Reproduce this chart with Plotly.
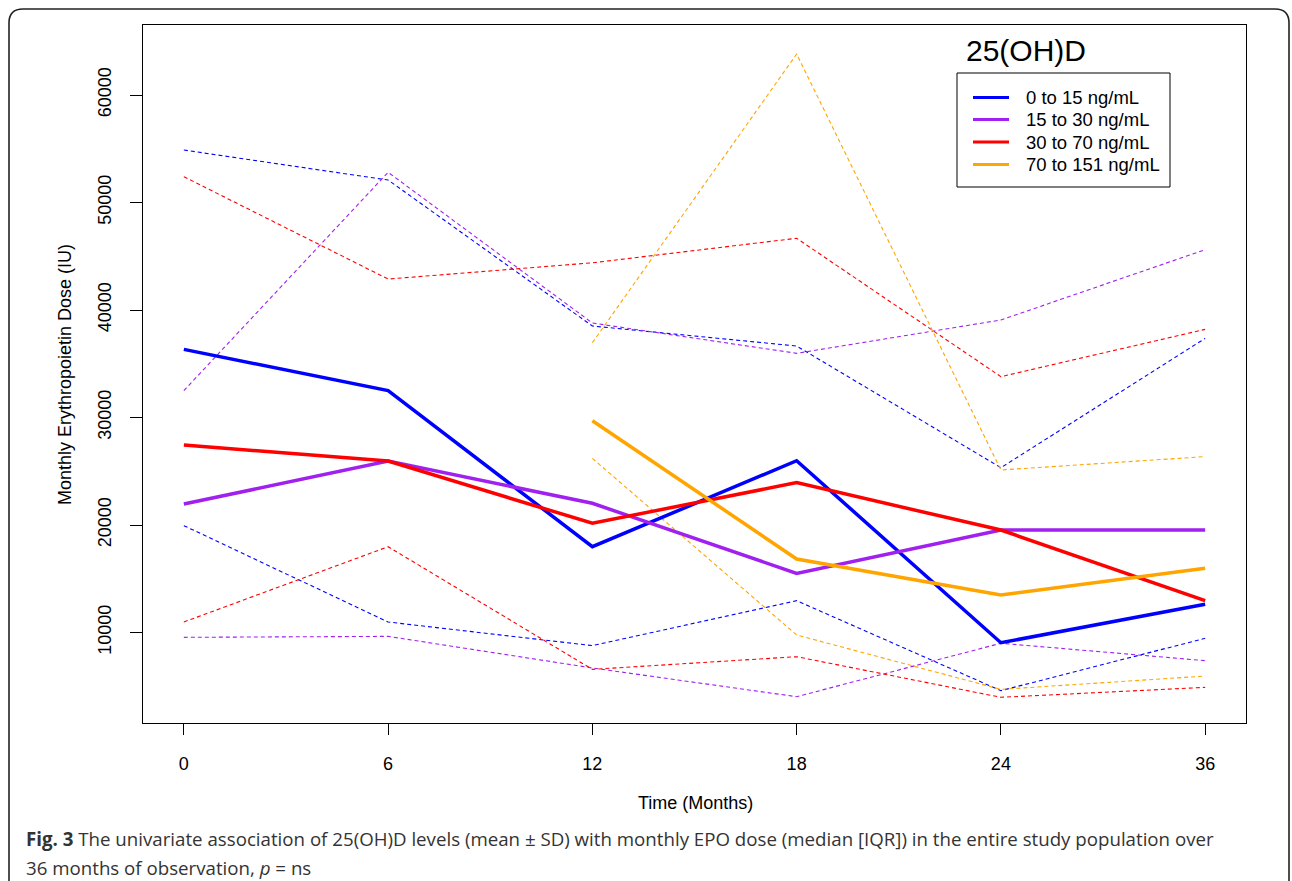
import plotly.graph_objects as go

# ---------------- data ----------------
months = ["0", "6", "12", "18", "24", "36"]
groups = ["0 to 15 ng/mL", "15 to 30 ng/mL", "30 to 70 ng/mL", "70 to 151 ng/mL"]

# medians (solid lines)
med_0_15 = [36340, 32500, 17980, 25980, 9050, 12620]
med_15_30 = [21950, 25950, 22020, 15500, 19530, 19530]
med_30_70 = [27440, 25950, 20160, 23940, 19530, 12960]
med_70_151 = [None, None, 29700, 16840, 13490, 15970]

# upper quartile (dashed)
q3_0_15 = [54880, 52090, 38510, 36650, 25330, 37360]
q3_15_30 = [32500, 52810, 38790, 35970, 39070, 45610]
q3_30_70 = [52400, 42880, 44390, 46670, 33800, 38200]
q3_70_151 = [None, None, 36960, 63810, 25120, 26360]

# lower quartile (dashed)
q1_0_15 = [19940, 10980, 8780, 12960, 4590, 9460]
q1_15_30 = [9550, 9640, 6700, 4030, 9000, 7380]
q1_30_70 = [10980, 17980, 6570, 7750, 3970, 4900]
q1_70_151 = [None, None, 26200, 9770, 4710, 5950]

y_ticks = [10000, 20000, 30000, 40000, 50000, 60000]

colors = ["#0000FF", "#A020F0", "#FF0000", "#FFA500"]
medians = [med_0_15, med_15_30, med_30_70, med_70_151]
uppers = [q3_0_15, q3_15_30, q3_30_70, q3_70_151]
lowers = [q1_0_15, q1_15_30, q1_30_70, q1_70_151]

# ---------------- layout geometry (pixels) ----------------
W, H = 1292, 881
L, R, T, B = 143, 1246, 25, 723
Y0_PX, PX_PER_10K = 740, 107.5   # pixel row of value 0, pixels per 10000


def px(x):
    return (x - L) / (R - L)


def py(y):
    return (B - y) / (B - T)


fig = go.Figure()

for g, c, lo, hi in zip(groups, colors, lowers, uppers):
    for vals in (hi, lo):
        xs = [m for m, v in zip(months, vals) if v is not None]
        ys = [v for v in vals if v is not None]
        fig.add_trace(go.Scatter(
            x=xs, y=ys, mode="lines", showlegend=False, hoverinfo="skip",
            line=dict(color=c, width=1.1, dash="4px,3px"),
        ))

for g, c, vals in zip(groups, colors, medians):
    xs = [m for m, v in zip(months, vals) if v is not None]
    ys = [v for v in vals if v is not None]
    fig.add_trace(go.Scatter(
        x=xs, y=ys, mode="lines", name=g, showlegend=False,
        line=dict(color=c, width=3.5),
    ))

axis_font = dict(family="Arial, Liberation Sans, sans-serif", size=18, color="#000")
cap_font = dict(family="Open Sans, Noto Sans, sans-serif", size=18.7, color="#333")

annotations = [
    dict(text="Time (Months)", xref="paper", yref="paper",
         x=px(695), y=py(803), xanchor="center", yanchor="middle",
         showarrow=False, font=axis_font),
    dict(text="Monthly Erythropoietin Dose (IU)", xref="paper", yref="paper",
         x=px(65), y=py(374), xanchor="center", yanchor="middle",
         textangle=-90, showarrow=False, font=axis_font),
    dict(text="25(OH)D", xref="paper", yref="paper",
         x=px(1026), y=py(50), xanchor="center", yanchor="middle",
         showarrow=False,
         font=dict(family="Arial, Liberation Sans, sans-serif", size=30, color="#000")),
    dict(text="<b>Fig. 3</b> The univariate association of 25(OH)D levels (mean ± SD) with monthly EPO dose (median [IQR]) in the entire study population over",
         xref="paper", yref="paper", x=px(24), y=py(838),
         xanchor="left", yanchor="middle", showarrow=False, align="left", font=cap_font),
    dict(text="36 months of observation, <i>p</i> = ns",
         xref="paper", yref="paper", x=px(24), y=py(867),
         xanchor="left", yanchor="middle", showarrow=False, align="left", font=cap_font),
]

shapes = []
# legend box (drawn manually to match the R legend layout)
LEG_X0, LEG_X1, LEG_Y0, LEG_Y1 = 957, 1170, 73, 187
shapes.append(dict(type="rect", xref="paper", yref="paper",
                   x0=px(LEG_X0), x1=px(LEG_X1), y0=py(LEG_Y1), y1=py(LEG_Y0),
                   line=dict(color="#000", width=1), fillcolor="white", layer="above"))
row_y = [97.5, 119.5, 142, 164.5]
for g, c, yy in zip(groups, colors, row_y):
    shapes.append(dict(type="line", xref="paper", yref="paper",
                       x0=px(973), x1=px(1009), y0=py(yy), y1=py(yy),
                       line=dict(color=c, width=3), layer="above"))
    annotations.append(dict(text=g, xref="paper", yref="paper",
                            x=px(1024), y=py(yy), xanchor="left", yanchor="middle",
                            showarrow=False,
                            font=dict(family="Arial, Liberation Sans, sans-serif",
                                      size=18.5, color="#000")))

# rounded figure border
r = 14
x0, y0, x1, y1 = 9, 9, 1289, 895
path = (
    f"M {px(x0)},{py(y1)} L {px(x0)},{py(y0 + r)} "
    f"Q {px(x0)},{py(y0)} {px(x0 + r)},{py(y0)} "
    f"L {px(x1 - r)},{py(y0)} Q {px(x1)},{py(y0)} {px(x1)},{py(y0 + r)} "
    f"L {px(x1)},{py(y1)}"
)
shapes.append(dict(type="path", xref="paper", yref="paper", path=path,
                   line=dict(color="#222", width=1.6), layer="above"))

fig.update_layout(
    width=W, height=H,
    margin=dict(l=L, r=W - R, t=T, b=H - B),
    paper_bgcolor="white", plot_bgcolor="white",
    font=axis_font,
    showlegend=False,
    xaxis=dict(
        type="category", categoryorder="array", categoryarray=months,
        range=[-0.2, 5.2], showgrid=False, zeroline=False,
        showline=True, mirror=True, linecolor="#000", linewidth=1,
        ticks="outside", ticklen=11, tickcolor="#000", tickwidth=1,
        tickfont=axis_font, ticklabelstandoff=13,
    ),
    yaxis=dict(
        range=[(Y0_PX - B) / PX_PER_10K * 10000, (Y0_PX - T) / PX_PER_10K * 10000],
        tickvals=y_ticks, ticktext=[str(v) for v in y_ticks],
        tickangle=-90, showgrid=False, zeroline=False,
        showline=True, mirror=True, linecolor="#000", linewidth=1,
        ticks="outside", ticklen=12, tickcolor="#000", tickwidth=1,
        tickfont=axis_font, ticklabelstandoff=12,
    ),
    annotations=annotations,
    shapes=shapes,
)

fig.write_html("out.html")
